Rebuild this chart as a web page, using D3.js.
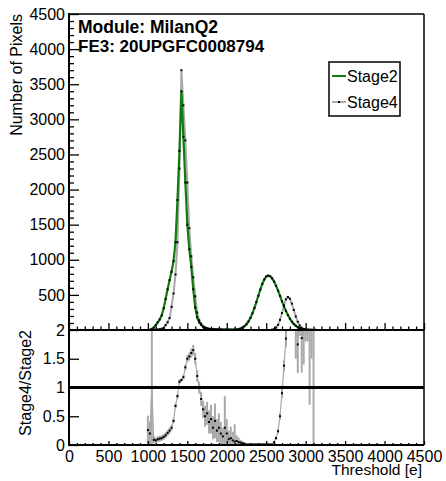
<!DOCTYPE html>
<html><head><meta charset="utf-8">
<script src="https://cdn.jsdelivr.net/npm/d3@7"></script>
<style>body{margin:0;background:#fff} text{font-family:"Liberation Sans",Arial,Helvetica,sans-serif}</style>
</head><body><svg id="c" width="446" height="481"></svg>
<script>
// ---- data (bin centres in e) ----
const thresholds = [1000,1025,1050,1075,1100,1125,1150,1175,1200,1225,1250,1275,1300,1325,1350,1375,1400,1425,1450,1475,
1500,1525,1550,1575,1600,1625,1650,1675,1700,1725,1750,1775,1800,1825,1850,1875,1900,1925,1950,1975,
2000,2025,2050,2075,2100,2125,2150,2175,2200,2225,2250,2275,2300,2325,2350,2375,2400,2425,2450,2475,
2500,2525,2550,2575,2600,2625,2650,2675,2700,2725,2750,2775,2800,2825,2850,2875,2900,2925,2950,2975,
3000,3025,3050,3075,3100,3125,3150];
const stage2 = [0,3,15,35,70,110,150,207,310,444,580,710,830,980,1250,1850,2550,3400,2750,2100,
1500,1150,900,580,320,180,110,75,50,35,25,18,14,11,9,8,7,6,6,5,
5,5,4,4,5,7,12,21,34,54,83,122,173,237,313,398,488,576,656,720,
761,775,765,735,690,629,560,485,409,337,271,212,161,119,86,60,41,28,18,12,
7,4,3,2,1,1,0];
const stage4 = [0,0,1,2,4,7,12,18,30,70,110,170,330,520,790,1250,2300,3700,3200,2700,
2100,1450,1050,750,480,250,140,90,45,22,12,8,5,4,3,2,2,2,1,1,
1,1,1,0,0,0,0,0,0,0,0,0,0,0,0,0,0,0,0,0,
0,0,0,4,13,33,74,144,242,350,437,470,445,376,285,193,117,64,31,14,
5,2,1,1,0,0,0];
const ratio = [0.26,0.2,1.0,0.09,0.08,0.1,0.11,0.12,0.14,0.17,0.21,0.25,0.3,0.42,0.68,0.85,1.1,1.13,1.18,1.35,
1.5,1.54,1.6,1.65,1.5,1.2,1.0,0.8,0.62,0.5,0.55,0.4,0.45,0.3,0.42,0.25,0.3,0.2,0.15,0.3,
0.2,0.1,0.12,0.08,0.06,0.07,0.05,0.04,0.03,0.02,0.01,0.01,0.01,0.01,0.01,0.01,0.01,0.01,0.01,0.01,
0.01,0.01,0.01,0.01,0.05,0.12,0.24,0.5,0.9,1.38,1.85,2.3,2.6,3.0,3.5,3.0,1.75,2.5,1.86,2.4,
3.0,2.8,2.5,3.0,2.0,null,null];
const ratioErr = [0.25,0.2,1.6,0.06,0.05,0.05,0.05,0.05,0.05,0.05,0.05,0.05,0.05,0.04,0.04,0.04,0.04,0.03,0.04,0.05,
0.06,0.07,0.08,0.09,0.1,0.1,0.1,0.12,0.15,0.18,0.2,0.2,0.25,0.2,0.3,0.2,0.25,0.2,0.15,0.55,
0.25,0.15,0.2,0.15,0.3,0.1,0.08,0.05,0.04,0.03,0.01,0.01,0.01,0.01,0.01,0.01,0.01,0.01,0.01,0.01,
0.01,0.01,0.01,0.01,0.02,0.03,0.04,0.06,0.08,0.1,0.15,0.3,0.4,0.6,0.8,1.5,0.5,0.6,0.6,1.0,
1.2,1.0,1.8,1.5,2.0,null,null];
const xTicks = [0,500,1000,1500,2000,2500,3000,3500,4000,4500];
const yTicksTop = [500,1000,1500,2000,2500,3000,3500,4000,4500];
const yTicksRatio = [0,0.5,1,1.5,2];
const seriesNames = ["Stage2","Stage4"];
const titleLines = ["Module: MilanQ2","FE3: 20UPGFC0008794"];
const xTitle = "Threshold [e]", yTitleTop = "Number of Pixels", yTitleRatio = "Stage4/Stage2";

// ---- layout ----
const L=69,R=424,T=14,M=330,B=445;
const GREEN="#0e7d0e", GRAY="#a9a9a9";
const svg=d3.select("#c");
svg.append("rect").attr("width",446).attr("height",481).attr("fill","#fff");
const x=d3.scaleLinear().domain([0,4500]).range([L,R]);
const y=d3.scaleLinear().domain([0,4500]).range([M,T]);
const yr=d3.scaleLinear().domain([0,2]).range([B,M]);
const defs=svg.append("defs");
defs.append("clipPath").attr("id","cu").append("rect").attr("x",L).attr("y",T).attr("width",R-L).attr("height",M-T);
defs.append("clipPath").attr("id","cl").append("rect").attr("x",L).attr("y",M).attr("width",R-L).attr("height",B-M);

const pts=(arr)=>thresholds.map((t,i)=>({t,v:arr[i]}));
const up=svg.append("g").attr("clip-path","url(#cu)");
const line=d3.line().x(d=>x(d.t)).y(d=>y(d.v));
up.append("path").datum(pts(stage4)).attr("d",line).attr("fill","none").attr("stroke",GRAY).attr("stroke-width",2);
up.append("path").datum(pts(stage2)).attr("d",line).attr("fill","none").attr("stroke",GREEN).attr("stroke-width",2.2);
[stage4,stage2].forEach(arr=>{
  up.append("g").selectAll("rect").data(pts(arr)).join("rect")
    .attr("x",d=>x(d.t)-1).attr("y",d=>y(d.v)-1).attr("width",2).attr("height",2).attr("fill","#000");
});

// ratio panel
const lo=svg.append("g").attr("clip-path","url(#cl)");
const rp=thresholds.map((t,i)=>({t,v:ratio[i],e:ratioErr[i]})).filter(d=>d.v!==null);
lo.append("path").datum(rp).attr("d",d3.line().x(d=>x(d.t)).y(d=>yr(d.v)))
  .attr("fill","none").attr("stroke",GRAY).attr("stroke-width",1.2);
lo.append("g").selectAll("line").data(rp).join("line")
  .attr("x1",d=>x(d.t)).attr("x2",d=>x(d.t)).attr("y1",d=>yr(d.v-d.e)).attr("y2",d=>yr(d.v+d.e))
  .attr("stroke",GRAY).attr("stroke-width",2);
lo.append("line").attr("x1",L).attr("x2",R).attr("y1",yr(1)).attr("y2",yr(1)).attr("stroke","#000").attr("stroke-width",3);
lo.append("g").selectAll("rect").data(rp).join("rect")
  .attr("x",d=>x(d.t)-1).attr("y",d=>yr(d.v)-1).attr("width",2).attr("height",2).attr("fill","#000");

// axes
function styleAxis(g){g.select(".domain").remove();g.selectAll(".tick line").attr("stroke","#000").attr("stroke-width",1.3);
  g.selectAll("text").attr("font-size",16).attr("fill","#000").attr("font-family","Liberation Sans, Arial, sans-serif");}
const minorTop=d3.range(100,4501,100).filter(v=>v%500!==0);
const minorX=d3.range(100,4500,100).filter(v=>v%500!==0);
const fmtInt=d3.format("d");
svg.append("g").attr("transform",`translate(${L},0)`).call(d3.axisLeft(y).tickValues(yTicksTop).tickSize(-10).tickPadding(4).tickFormat(fmtInt)).call(styleAxis);
svg.append("g").attr("transform",`translate(${L},0)`).call(d3.axisLeft(y).tickValues(minorTop).tickSize(-5).tickFormat("")).call(styleAxis);
svg.append("g").attr("transform",`translate(0,${M})`).call(d3.axisBottom(x).tickValues(xTicks).tickSize(-7).tickFormat("")).call(styleAxis);
svg.append("g").attr("transform",`translate(0,${M})`).call(d3.axisBottom(x).tickValues(minorX).tickSize(-3.5).tickFormat("")).call(styleAxis);
svg.append("g").attr("transform",`translate(${L},0)`).call(d3.axisLeft(yr).tickValues(yTicksRatio).tickSize(-10).tickPadding(4).tickFormat(d3.format("~g"))).call(styleAxis);
svg.append("g").attr("transform",`translate(0,${B})`).call(d3.axisBottom(x).tickValues(xTicks).tickSize(-4).tickPadding(6).tickFormat(fmtInt)).call(styleAxis);
svg.append("g").attr("transform",`translate(0,${B})`).call(d3.axisBottom(x).tickValues(minorX).tickSize(-2).tickFormat("")).call(styleAxis);

// frames
const fr=(x1,y1,x2,y2,w)=>svg.append("line").attr("x1",x1).attr("y1",y1).attr("x2",x2).attr("y2",y2).attr("stroke","#000").attr("stroke-width",w);
fr(L,T,R,T,1.5); fr(R,T,R,B,1.5); fr(L,T-1,L,B+1,2); fr(L-1,M,R,M,2); fr(L-1,B,R,B,2);

// titles
svg.append("text").attr("x",R-2).attr("y",475).attr("text-anchor","end").attr("font-size",15.5).text(xTitle);
svg.append("text").attr("transform",`translate(22,${T}) rotate(-90)`).attr("text-anchor","end").attr("font-size",16).text(yTitleTop);
svg.append("text").attr("transform",`translate(31,${M}) rotate(-90)`).attr("text-anchor","end").attr("font-size",16).text(yTitleRatio);
svg.append("text").attr("x",78).attr("y",33).attr("font-size",17.5).attr("font-weight","bold").text(titleLines[0]);
svg.append("text").attr("x",78).attr("y",52).attr("font-size",17).attr("font-weight","bold").text(titleLines[1]);

// legend
const lg=svg.append("g");
lg.append("rect").attr("x",329).attr("y",62).attr("width",71).attr("height",54).attr("fill","#fff").attr("stroke","#000").attr("stroke-width",1.5);
const ly=[76,102];
lg.append("line").attr("x1",332).attr("x2",346).attr("y1",ly[0]).attr("y2",ly[0]).attr("stroke",GREEN).attr("stroke-width",2);
lg.append("line").attr("x1",332).attr("x2",346).attr("y1",ly[1]).attr("y2",ly[1]).attr("stroke",GRAY).attr("stroke-width",2);
lg.append("rect").attr("x",338).attr("y",ly[1]-1).attr("width",2).attr("height",2).attr("fill","#000");
seriesNames.forEach((n,i)=>lg.append("text").attr("x",347).attr("y",ly[i]+6).attr("font-size",16).text(n));
</script></body></html>
